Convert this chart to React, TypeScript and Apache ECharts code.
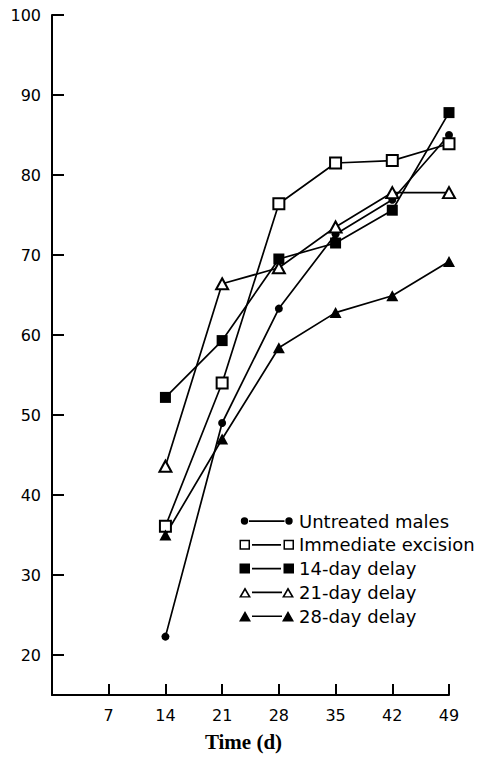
import React, { useEffect, useRef } from "react";
import * as echarts from "echarts";

// ---- data ----
const days = [14, 21, 28, 35, 42, 49];
const untreatedMales = [22.3, 49.0, 63.3, 72.6, 76.9, 85.0];
const immediateExcision = [36.1, 54.0, 76.4, 81.5, 81.8, 83.9];
const delay14 = [52.2, 59.3, 69.5, 71.5, 75.6, 87.8];
const delay21 = [43.6, 66.4, 68.4, 73.5, 77.8, 77.8];
const delay28 = [35.0, 47.0, 58.4, 62.8, 64.9, 69.2];

const seriesNames = [
  "Untreated males",
  "Immediate excision",
  "14-day delay",
  "21-day delay",
  "28-day delay",
];
const xTickValues = [7, 14, 21, 28, 35, 42, 49];
const yTickValues = [20, 30, 40, 50, 60, 70, 80, 90, 100];
const xAxisTitle = "Time (d)";

// ---- legend icon helpers (style only) ----
const BOX = "M0,0 M55,11 ";
const circ = (cx: number, cy: number, r: number) =>
  `M${cx - r},${cy} A${r},${r} 0 1 1 ${cx + r},${cy} A${r},${r} 0 1 1 ${cx - r},${cy} Z `;
const rectCW = (x: number, y: number, w: number, h: number) =>
  `M${x},${y} L${x + w},${y} L${x + w},${y + h} L${x},${y + h} Z `;
const rectCCW = (x: number, y: number, w: number, h: number) =>
  `M${x},${y} L${x},${y + h} L${x + w},${y + h} L${x + w},${y} Z `;
const triCW = (x: number, w: number, top: number, bottom: number) =>
  `M${x + w / 2},${top} L${x + w},${bottom} L${x},${bottom} Z `;
const triCCW = (x: number, w: number, top: number, bottom: number) =>
  `M${x + w / 2},${top} L${x},${bottom} L${x + w},${bottom} Z `;
const bar = (x1: number, x2: number) => rectCW(x1, 4.7, x2 - x1, 1.7);

const openSq = (x: number) => rectCW(x, 0.5, 10.5, 10) + rectCCW(x + 1.5, 2, 7.5, 7);
const openTri = (x: number) => triCW(x, 12, 0.3, 10.7) + triCCW(x + 2.7, 6.6, 3.6, 9.3);

const legendIcons = [
  "path://" + BOX + circ(5.5, 5.5, 3.7) + bar(10, 45.5) + circ(50, 5.5, 3.7),
  "path://" + BOX + openSq(0.5) + bar(13, 42) + openSq(44.5),
  "path://" + BOX + rectCW(0.5, 0.5, 10.5, 10) + bar(13, 42) + rectCW(44.5, 0.5, 10.5, 10),
  "path://" + BOX + openTri(0) + bar(13, 43) + openTri(43),
  "path://" + BOX + triCW(0, 12, 0.3, 10.7) + bar(13, 43) + triCW(43, 12, 0.3, 10.7),
];

const FONT = "DejaVu Sans";

export default function App() {
  const ref = useRef<HTMLDivElement>(null);

  useEffect(() => {
    if (!ref.current) return;
    const chart = echarts.init(ref.current, null, { renderer: "svg" });

    const values = [untreatedMales, immediateExcision, delay14, delay21, delay28];
    const symbols = ["circle", "emptyRect", "rect", "emptyTriangle", "triangle"];
    const sizes: any[] = [8, 11, 11, [12, 11], [12, 11]];
    const hollow = [false, true, false, true, false];

    const series = seriesNames.map((name, i) => ({
      name,
      type: "line",
      data: days.map((d, j) => [d, values[i][j]]),
      symbol: symbols[i],
      symbolSize: sizes[i],
      showSymbol: true,
      lineStyle: { color: "#000", width: 1.7 },
      itemStyle: hollow[i]
        ? { color: "#000", borderColor: "#000", borderWidth: 1.5 }
        : { color: "#000", borderWidth: 0 },
      emphasis: { disabled: true },
      z: 2,
    }));

    chart.setOption({
      animation: false,
      backgroundColor: "#fff",
      grid: { left: 52, right: 31, top: 15, bottom: 61, containLabel: false },
      xAxis: {
        type: "value",
        min: 0,
        max: 49,
        name: xAxisTitle,
        nameLocation: "middle",
        nameGap: 36,
        nameTextStyle: {
          fontFamily: "Liberation Serif",
          fontWeight: "bold",
          fontSize: 21,
          color: "#000",
          padding: [0, 14, 0, 0],
        },
        axisLine: { show: true, onZero: false, lineStyle: { color: "#000", width: 2 } },
        axisTick: {
          show: true,
          inside: true,
          length: 11,
          customValues: xTickValues,
          lineStyle: { color: "#000", width: 2 },
        },
        axisLabel: {
          customValues: xTickValues,
          color: "#000",
          fontFamily: FONT,
          fontSize: 16,
          margin: 12,
        },
        splitLine: { show: false },
      },
      yAxis: {
        type: "value",
        min: 15,
        max: 100,
        axisLine: { show: true, onZero: false, lineStyle: { color: "#000", width: 2 } },
        axisTick: {
          show: true,
          inside: true,
          length: 12,
          customValues: yTickValues,
          lineStyle: { color: "#000", width: 2 },
        },
        axisLabel: {
          customValues: yTickValues,
          color: "#000",
          fontFamily: FONT,
          fontSize: 16,
          margin: 11,
        },
        splitLine: { show: false },
      },
      legend: {
        orient: "vertical",
        left: 234,
        top: 507,
        itemWidth: 55,
        itemHeight: 11,
        itemGap: 5.8,
        selectedMode: false,
        itemStyle: { color: "#000", borderWidth: 0 },
        textStyle: { fontFamily: FONT, fontSize: 18, color: "#000" },
        data: seriesNames.map((n, i) => ({ name: n, icon: legendIcons[i] })),
      },
      series,
    });

    return () => chart.dispose();
  }, []);

  return (
    <div
      ref={ref}
      style={{ position: "fixed", left: 0, top: 0, width: 480, height: 757, background: "#fff" }}
    />
  );
}
